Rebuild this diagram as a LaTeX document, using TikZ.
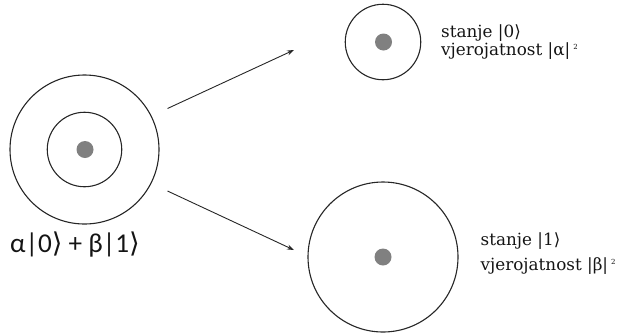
\documentclass[tikz,border=0pt]{standalone}
\usepackage{fontspec}
\setmainfont{DejaVu Serif}
\newfontfamily\ketfont{DejaVu Sans}
\newfontfamily\lblfont{Carlito}
\usetikzlibrary{arrows.meta}
\definecolor{txtc}{HTML}{141414}
\definecolor{dotc}{HTML}{808080}
\newcommand{\rk}{{\ketfont ⟩}}
\newcommand{\sq}{\hspace{3pt}\raisebox{6pt}{\fontsize{7}{7}\selectfont 2}}

\begin{document}
\begin{tikzpicture}
                [x=1pt, y=-1pt,
                csty/.style={circle, draw=black!85, line width=1.1pt, inner sep=0pt},
                dsty/.style={circle, fill=dotc, inner sep=0pt, minimum size=17pt},
                tsty/.style={anchor=base west, inner sep=0pt, text=txtc, font=\fontsize{16.8}{18}\selectfont},
                asty/.style={-{Stealth[length=7pt, width=5pt]}, line width=0.9pt, draw=black!85}]
                \useasboundingbox (0,0) rectangle (639,333);
                % nodes
                \node[csty, minimum size=149pt] (outer) at (84.5,149.5) {};
                \node[csty, minimum size=74.5pt] (inner) at (84.5,149.5) {};
                \node[dsty] (d0) at (85,149.5) {};
                \node[csty, minimum size=75.5pt] (top) at (383,42) {};
                \node[dsty] (d1) at (383.5,42) {};
                \node[csty, minimum size=150pt] (bot) at (383,257) {};
                \node[dsty] (d2) at (383,257) {};
                % labels
                \node[anchor=base west, inner sep=0pt, text=txtc, font=\lblfont\fontsize{27.2}{28}\selectfont] (sup) at (10,252) {α|0\rk{} + β|1\rk};
                \node[tsty] (s0) at (441,37) {stanje |0\rk};
                \node[tsty] (p0) at (441,55.5) {vjerojatnost |α|\sq};
                \node[tsty] (s1) at (480.5,245) {stanje |1\rk};
                \node[tsty] (p1) at (480.5,270) {vjerojatnost |β|\sq};
                % arrows
                \coordinate (a0) at (167.5,108.5);
                \coordinate (b0) at (294,50);
                \coordinate (a1) at (167.5,191);
                \coordinate (b1) at (294,250);
                \draw[asty] (a0) -- (b0);
                \draw[asty] (a1) -- (b1);
            \end{tikzpicture}
\end{document}
